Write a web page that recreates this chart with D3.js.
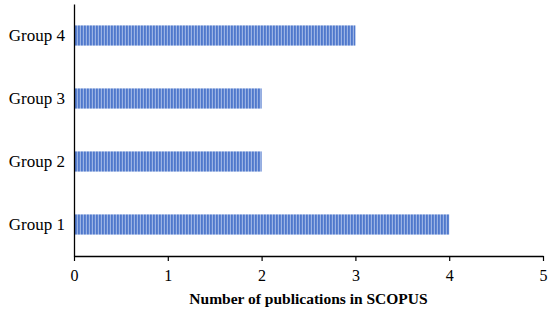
<!DOCTYPE html>
<html lang="en">
<head>
<meta charset="UTF-8">
<title>Publications</title>
<script src="https://cdn.jsdelivr.net/npm/d3@7/dist/d3.min.js"></script>
<style>
  body { margin: 0; background: #fff; }
  text { font-family: "Liberation Serif", "DejaVu Serif", serif; }
</style>
</head>
<body>
<script>
    var groups = ["Group 1", "Group 2", "Group 3", "Group 4"];
    var counts = [4, 2, 2, 3];
    var xTicks = [0, 1, 2, 3, 4, 5];

    var width = 550, height = 313;
    var margin = {left: 74, right: 7, top: 4, bottom: 57};

    var svg = d3.select("body").append("svg")
        .attr("width", width).attr("height", height);

    // striped fill for the bars
    var pat = svg.append("defs").append("pattern")
        .attr("id", "stripes")
        .attr("patternUnits", "userSpaceOnUse")
        .attr("width", 3).attr("height", 10);
    pat.append("rect").attr("width", 3).attr("height", 10).attr("fill", "#9bb3e4");
    pat.append("rect").attr("width", 1.8).attr("height", 10).attr("fill", "#4f78cc");

    var x = d3.scaleLinear().domain([0, 5]).range([margin.left, width - margin.right]);
    var y = d3.scaleBand().domain(groups.slice().reverse())
        .range([margin.top, height - margin.bottom])
        .paddingInner(0.68).paddingOuter(0.34);

    svg.selectAll("rect.bar").data(groups)
        .enter().append("rect")
        .attr("class", "bar")
        .attr("x", x(0))
        .attr("y", function(d){ return y(d); })
        .attr("width", function(d, i){ return x(counts[i]) - x(0); })
        .attr("height", y.bandwidth())
        .attr("fill", "url(#stripes)");

    // x axis
    var xAxis = svg.append("g")
        .attr("transform", "translate(0," + (height - margin.bottom) + ")")
        .call(d3.axisBottom(x).tickValues(xTicks).tickFormat(d3.format("d")).tickSize(5).tickSizeOuter(0));
    xAxis.select(".domain").attr("stroke", "#000").attr("stroke-width", 1.3);
    xAxis.selectAll(".tick line").attr("stroke", "#000").attr("stroke-width", 1.2);
    xAxis.selectAll(".tick text")
        .attr("font-size", "16px").attr("fill", "#000").attr("dy", "1.05em")
        .style("font-family", "'Liberation Serif', serif");

    // y axis
    var yAxis = svg.append("g")
        .attr("transform", "translate(" + margin.left + ",0)")
        .call(d3.axisLeft(y).tickSize(0).tickSizeOuter(0).tickPadding(9));
    yAxis.select(".domain").attr("stroke", "#000").attr("stroke-width", 1.3);
    yAxis.selectAll(".tick text")
        .attr("font-size", "17px").attr("fill", "#000")
        .style("font-family", "'Liberation Serif', serif");

    svg.append("text")
        .attr("x", (x(0) + x(5)) / 2)
        .attr("y", 304)
        .attr("text-anchor", "middle")
        .attr("font-size", "15.5px")
        .attr("font-weight", "bold")
        .text("Number of publications in SCOPUS");
</script>
</body>
</html>
